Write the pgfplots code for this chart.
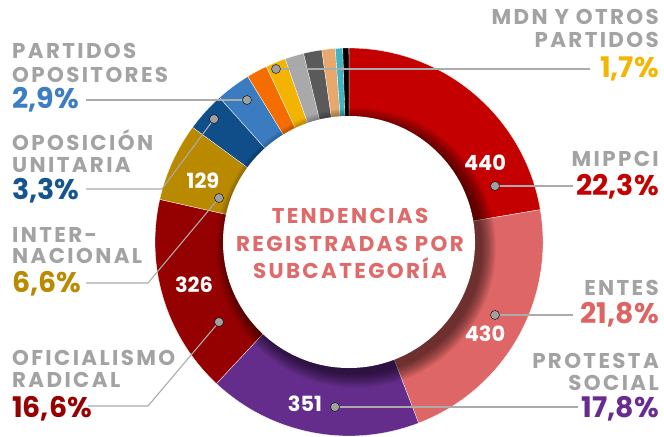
\documentclass[border=0pt]{standalone}
\usepackage{pgfplots}
\pgfplotsset{compat=1.18}
\usepackage{pgfplotstable}
\usepackage{fontspec}
\setmainfont{Poppins}
\newfontfamily\trackfont[LetterSpace=11]{Poppins}
\definecolor{segc0}{HTML}{C40000}
\definecolor{segc1}{HTML}{DE6666}
\definecolor{segc2}{HTML}{652D8B}
\definecolor{segc3}{HTML}{950000}
\definecolor{segc4}{HTML}{B98900}
\definecolor{segc5}{HTML}{0F4E89}
\definecolor{segc6}{HTML}{3B7CC0}
\definecolor{segc7}{HTML}{F56C00}
\definecolor{segc8}{HTML}{F2B400}
\definecolor{segc9}{HTML}{A9A9A9}
\definecolor{segc10}{HTML}{5A5A5A}
\definecolor{segc11}{HTML}{E8A76C}
\definecolor{segc12}{HTML}{3EB4C4}
\definecolor{segc13}{HTML}{000000}
\definecolor{lblgray}{HTML}{A3A3A3}
\definecolor{linegray}{HTML}{ABABAB}
\definecolor{dotgray}{HTML}{A0A0A0}
\definecolor{ctitle}{HTML}{E06A6A}
\definecolor{pMIP}{HTML}{C40000}
\definecolor{pENT}{HTML}{DE6464}
\definecolor{pPRO}{HTML}{682C90}
\definecolor{pOFI}{HTML}{960000}
\definecolor{pINT}{HTML}{BA8A00}
\definecolor{pOPU}{HTML}{14558F}
\definecolor{pPAR}{HTML}{3C7DC4}
\definecolor{pMDN}{HTML}{F2B705}

\pgfplotstableread{
label value
MIPPCI 440
ENTES 430
PROTESTA 351
OFICIALISMO 326
INTERNACIONAL 129
OPOSICION 65
PARTIDOS 57
OTRO1 34
MDN 33
OTRO2 31
OTRO3 30
OTRO4 22
OTRO5 12
OTRO6 10
}\datatable

\newcommand\nm[1]{{\trackfont\fontsize{21.5}{21.5}\selectfont\bfseries\color{lblgray}#1}}
\newcommand\ct[1]{{\trackfont\fontsize{21.5}{21.5}\selectfont\bfseries\color{ctitle}#1}}
\newcommand\pc[2]{{\fontsize{28.5}{28.5}\selectfont\bfseries\color{#1}#2}}
\newcommand\nb[1]{{\fontsize{21}{21}\selectfont\bfseries\color{white}#1}}

\begin{document}
\begin{tikzpicture}
\pgfplotstablegetrowsof{\datatable}
\pgfmathtruncatemacro\lastrow{\pgfplotsretval-1}
\gdef\total{0}
\foreach \i in {0,...,\lastrow}{%
  \pgfplotstablegetelem{\i}{value}\of\datatable
  \pgfmathsetmacro\t{\total+\pgfplotsretval}\xdef\total{\t}}
\gdef\cur{90}
\foreach \i in {0,...,\lastrow}{%
  \pgfplotstablegetelem{\i}{value}\of\datatable
  \pgfmathsetmacro\e{\cur-\pgfplotsretval/\total*360}%
  \expandafter\xdef\csname sa\i\endcsname{\cur}%
  \expandafter\xdef\csname ea\i\endcsname{\e}%
  \xdef\cur{\e}}
\begin{axis}[at={(0,0)}, anchor=south west, scale only axis,
  width=664bp, height=437bp, xmin=0, xmax=664, ymin=0, ymax=437,
  y dir=reverse, hide axis, clip=false]
\pgfplotsinvokeforeach{0,...,13}{
  \fill[segc#1, draw=white, line width=0.3bp]
    (axis cs:349,242) -- ++(\csname sa#1\endcsname:194bp)
    arc[start angle=\csname sa#1\endcsname, end angle=\csname ea#1\endcsname, radius=194bp] -- cycle;
}
% soft shadow of the centre disc
\pgfplotsinvokeforeach{126,...,140}{
  \fill[black, opacity=0.045] (axis cs:356,248) circle[radius=#1bp];
}
\fill[white] (axis cs:349,242) circle[radius=126bp];

% leader lines
\addplot[linegray, line width=1.1bp] coordinates {(276,69) (590,69)};
\addplot[linegray, line width=1.1bp] coordinates {(495,186) (573,186)};
\addplot[linegray, line width=1.1bp] coordinates {(495,315) (573,315)};
\addplot[linegray, line width=1.1bp] coordinates {(335,407) (578,407)};
\addplot[linegray, line width=1.1bp] coordinates {(219,322) (148,406) (88,406)};
\addplot[linegray, line width=1.1bp] coordinates {(219,198) (148,283) (86,283)};
\addplot[linegray, line width=1.1bp] coordinates {(214,119) (162,189) (86,189)};
\addplot[linegray, line width=1.1bp] coordinates {(247,100) (86,100)};
\addplot[only marks, mark=*, mark size=4.5bp, mark options={fill=dotgray, draw=none}]
  coordinates {(276,69) (495,186) (495,315) (335,407) (219,322) (219,198) (214,119) (247,100)};

% centre title
\node[anchor=base, inner sep=0] at (axis cs:350,223) {\ct{TENDENCIAS}};
\node[anchor=base, inner sep=0] at (axis cs:350,251) {\ct{REGISTRADAS POR}};
\node[anchor=base, inner sep=0] at (axis cs:350,278) {\ct{SUBCATEGORÍA}};

% counts
\node[anchor=base, inner sep=0] at (axis cs:485,170) {\nb{440}};
\node[anchor=base, inner sep=0] at (axis cs:485,341) {\nb{430}};
\node[anchor=base, inner sep=0] at (axis cs:305,411) {\nb{351}};
\node[anchor=base, inner sep=0] at (axis cs:194,292) {\nb{326}};
\node[anchor=base, inner sep=0] at (axis cs:203,188) {\nb{129}};

% right labels
\node[anchor=base east, inner sep=0] at (axis cs:659,25) {\nm{MDN Y OTROS}};
\node[anchor=base east, inner sep=0] at (axis cs:659,47) {\nm{PARTIDOS}};
\node[anchor=base east, inner sep=0] at (axis cs:659,77) {\pc{pMDN}{1,7\%}};
\node[anchor=base east, inner sep=0] at (axis cs:659,166) {\nm{MIPPCI}};
\node[anchor=base east, inner sep=0] at (axis cs:659,195) {\pc{pMIP}{22,3\%}};
\node[anchor=base east, inner sep=0] at (axis cs:659,295) {\nm{ENTES}};
\node[anchor=base east, inner sep=0] at (axis cs:659,323) {\pc{pENT}{21,8\%}};
\node[anchor=base east, inner sep=0] at (axis cs:659,368) {\nm{PROTESTA}};
\node[anchor=base east, inner sep=0] at (axis cs:659,390) {\nm{SOCIAL}};
\node[anchor=base east, inner sep=0] at (axis cs:659,417) {\pc{pPRO}{17,8\%}};

% left labels
\node[anchor=base west, inner sep=0] at (axis cs:12,58) {\nm{PARTIDOS}};
\node[anchor=base west, inner sep=0] at (axis cs:12,82) {\nm{OPOSITORES}};
\node[anchor=base west, inner sep=0] at (axis cs:12,108) {\pc{pPAR}{2,9\%}};
\node[anchor=base west, inner sep=0] at (axis cs:12,150) {\nm{OPOSICIÓN}};
\node[anchor=base west, inner sep=0] at (axis cs:12,172) {\nm{UNITARIA}};
\node[anchor=base west, inner sep=0] at (axis cs:12,199) {\pc{pOPU}{3,3\%}};
\node[anchor=base west, inner sep=0] at (axis cs:12,242) {\nm{INTER-}};
\node[anchor=base west, inner sep=0] at (axis cs:12,263) {\nm{NACIONAL}};
\node[anchor=base west, inner sep=0] at (axis cs:12,292) {\pc{pINT}{6,6\%}};
\node[anchor=base west, inner sep=0] at (axis cs:12,365) {\nm{OFICIALISMO}};
\node[anchor=base west, inner sep=0] at (axis cs:12,387) {\nm{RADICAL}};
\node[anchor=base west, inner sep=0] at (axis cs:12,417) {\pc{pOFI}{16,6\%}};
\end{axis}
\pgfresetboundingbox
\path (0,0) rectangle (664bp,437bp);
\end{tikzpicture}
\end{document}
